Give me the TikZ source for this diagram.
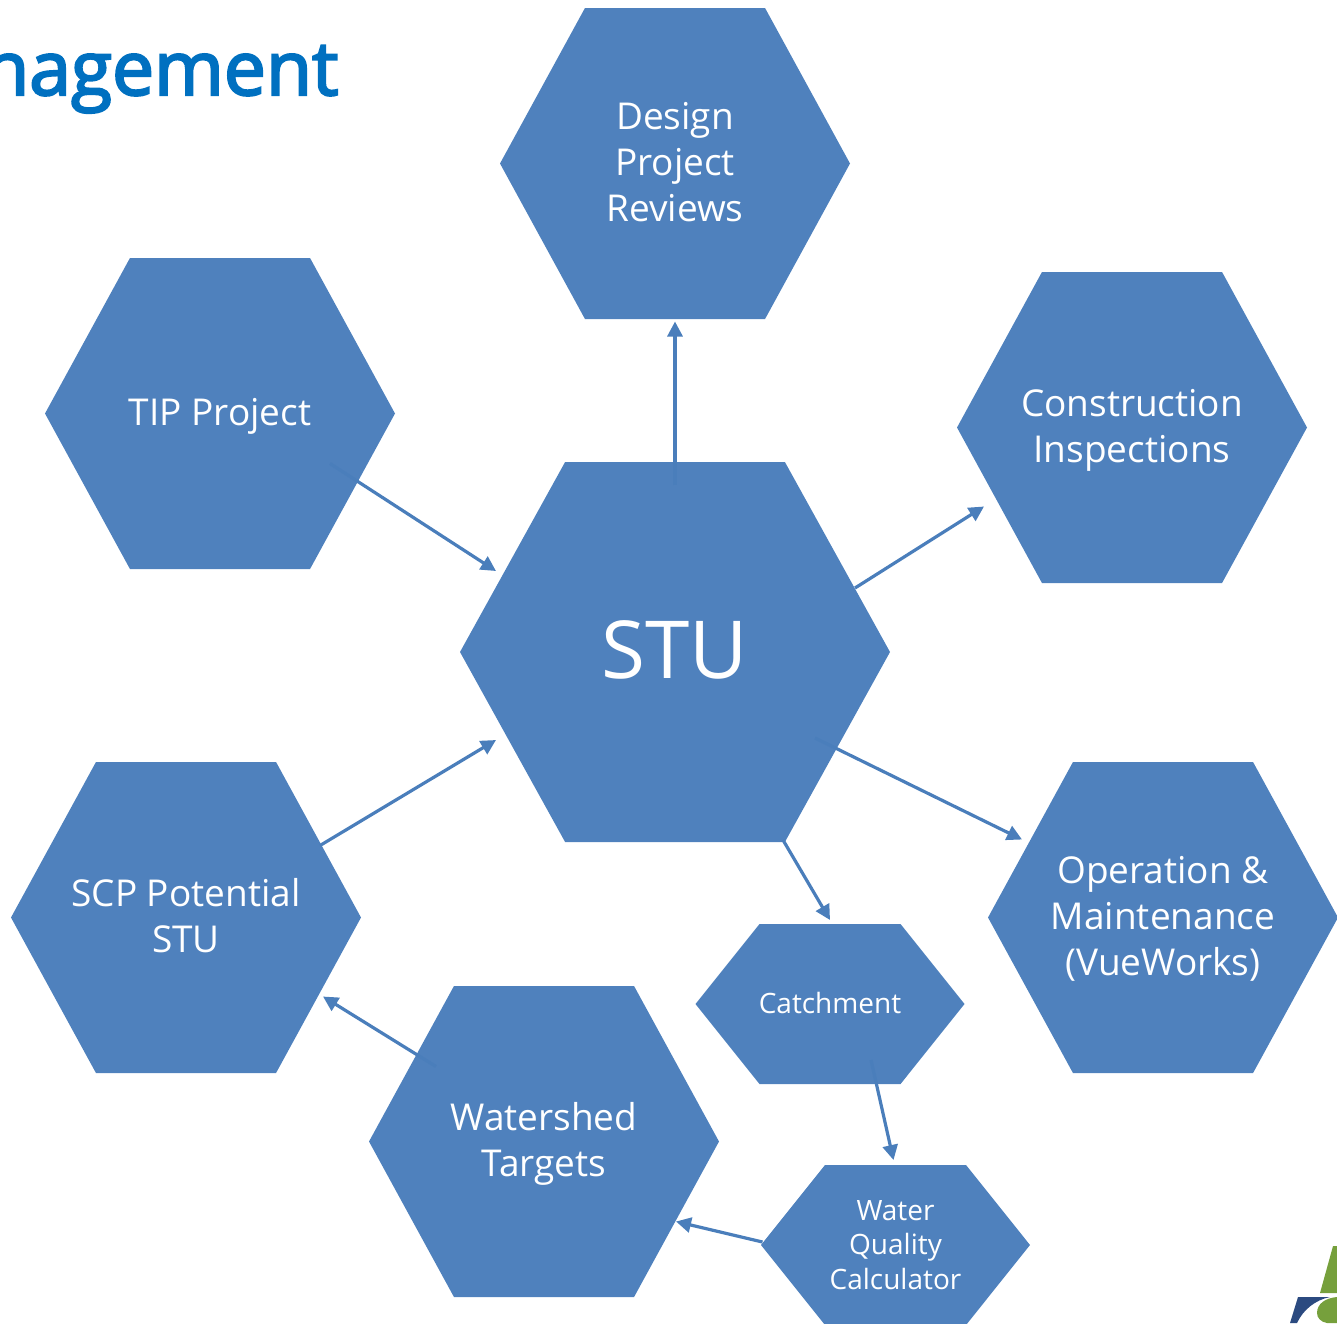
\documentclass[tikz,border=0pt]{standalone}
\usepackage{fontspec}
\setmainfont{Open Sans}
\newfontfamily\titlefont[FakeBold=3]{Open Sans}
\usepackage{tikz}
\usetikzlibrary{arrows.meta,shapes.symbols}
\definecolor{hexblue}{HTML}{4F81BD}
\definecolor{arrowblue}{HTML}{4A7EBB}
\definecolor{titleblue}{HTML}{0070C0}
\definecolor{logogreen}{HTML}{76A03C}
\definecolor{logonavy}{HTML}{2B4A80}
\newcommand{\lineclap}[2][-11.5pt]{\raisebox{#1}[0pt][0pt]{\makebox[0pt]{#2}}}
\tikzstyle{hex} = [signal, signal to=west and east, signal pointer angle=122.7, minimum width=350pt, minimum height=311pt, inner sep=0pt, outer sep=0pt, fill=hexblue, text=white, align=center, font=\fontsize{37}{46}\selectfont]
\tikzstyle{arrow} = [line width=3.2pt,-{Triangle[length=15pt,width=15pt]},arrowblue]
\begin{document}
\begin{tikzpicture}[x=1pt,y=-1pt]
\useasboundingbox (0,0) rectangle (1337,1323);
\clip (0,0) rectangle (1337,1323);
\tikzset{%
	small/.style = {hex, signal pointer angle=102.7, minimum width=269pt, minimum height=160pt, font=\fontsize{28}{34.5}\selectfont}
}
\node(title) [anchor=base east, text=titleblue, font=\fontsize{75}{80}\titlefont] at (342,95) {nagement};

\node(design) [hex] at (675,163.5) {\lineclap{Design}\\\lineclap{Project}\\\lineclap{Reviews}};
\node(tip) [hex] at (220,413.5) {\lineclap{TIP Project}};
\node(constr) [hex] at (1132,427.5) {\lineclap{Construction}\\\lineclap{Inspections}};
\node(scp) [hex] at (186,917.5) {\lineclap{SCP Potential}\\\lineclap{STU}};
\node(om) [hex] at (1163,917.5) {\lineclap{Operation \&}\\\lineclap{Maintenance}\\\lineclap{(VueWorks)}};
\node(shed) [hex] at (544,1141.5) {\lineclap{Watershed}\\\lineclap{Targets}};
\node(stu) [hex, signal pointer angle=122.1, minimum width=430pt, minimum height=380pt, font=\fontsize{80}{90}\selectfont] at (675,652) {\lineclap[-26pt]{STU}};
\node(catch) [small] at (830,1004) {\lineclap[-9.5pt]{Catchment}};
\node(wqc) [small] at (895.5,1245) {\lineclap[-9.5pt]{Water}\\\lineclap[-9.5pt]{Quality}\\\lineclap[-9.5pt]{Calculator}};

\draw [arrow] ([shift={(0,-167)}]stu.center) -- ([shift={(0,158)}]design.center);
\draw [arrow] ([shift={(110,50)}]tip.center) -- ([shift={(-179,-81)}]stu.center);
\draw [arrow] ([shift={(180,-64)}]stu.center) -- ([shift={(-148,79)}]constr.center);
\draw [arrow] ([shift={(140,86)}]stu.center) -- ([shift={(-141,-78)}]om.center);
\draw [arrow] ([shift={(108,188)}]stu.center) -- ([shift={(0,-84)}]catch.center);
\draw [arrow] ([shift={(41,56)}]catch.center) -- ([shift={(-2,-85)}]wqc.center);
\draw [arrow] ([shift={(-133,-3)}]wqc.center) -- ([shift={(132,80)}]shed.center);
\draw [arrow] ([shift={(-108,-75)}]shed.center) -- ([shift={(137,79)}]scp.center);
\draw [arrow] ([shift={(134,-72)}]scp.center) -- ([shift={(-179,88)}]stu.center);

% logo in the corner
\fill [logogreen] (1333,1246) -- (1337,1246) -- (1337,1293) -- (1320,1293) -- cycle;
\fill [logonavy] (1298,1297) -- (1330,1297) .. controls (1315,1300) and (1303,1310) .. (1297,1323) -- (1290,1323) -- cycle;
\fill [logogreen] (1337,1297) .. controls (1325,1298) and (1317,1304) .. (1317,1313) .. controls (1317,1318) and (1321,1322) .. (1327,1323) -- (1337,1323) -- cycle;
\end{tikzpicture}
\end{document}
